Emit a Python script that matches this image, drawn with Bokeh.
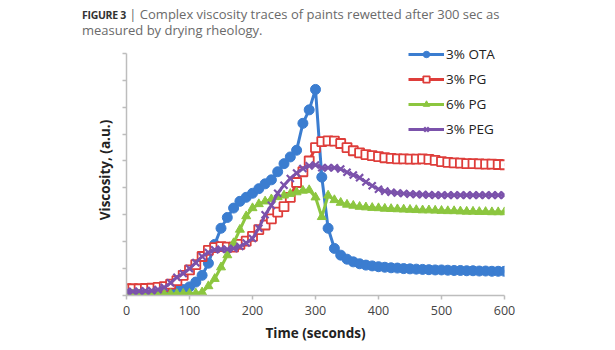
from bokeh.plotting import figure
from bokeh.models import Legend, LegendItem, FixedTicker, Range1d, Div
from bokeh.layouts import column
from bokeh.embed import file_html
from bokeh.resources import INLINE

# ---- data ----
time_s = [0, 10, 20, 30, 40, 50, 60, 70, 80, 90,
          100, 110, 120, 130, 140, 150, 160, 170, 180, 190,
          200, 210, 220, 230, 240, 250, 260, 270, 280, 290,
          300, 310, 320, 330, 340, 350, 360, 370, 380, 390,
          400, 410, 420, 430, 440, 450, 460, 470, 480, 490,
          500, 510, 520, 530, 540, 550, 560, 570, 580, 590, 600]

ota_3 = [0.12, 0.12, 0.12, 0.12, 0.12, 0.13, 0.14, 0.16, 0.18, 0.22,
         0.32, 0.5, 0.75, 1.2, 1.9, 2.5, 2.9, 3.25, 3.5, 3.65,
         3.8, 3.97, 4.15, 4.3, 4.6, 4.9, 5.15, 5.4, 6.4, 6.9,
         7.66, 4.4, 2.5, 1.75, 1.5, 1.35, 1.25, 1.18, 1.13, 1.1,
         1.07, 1.05, 1.03, 1.02, 1.0, 0.99, 0.98, 0.97, 0.96, 0.95,
         0.95, 0.94, 0.93, 0.93, 0.92, 0.92, 0.91, 0.91, 0.9, 0.9, 0.9]

pg_3 = [0.25, 0.25, 0.25, 0.26, 0.27, 0.3, 0.33, 0.42, 0.55, 0.75,
        0.95, 1.15, 1.45, 1.68, 1.78, 1.82, 1.8, 1.8, 1.9, 2.02,
        2.2, 2.45, 2.62, 2.85, 3.1, 3.3, 3.65, 4.2, 4.6, 5.0,
        5.5, 5.72, 5.75, 5.74, 5.65, 5.5, 5.38, 5.3, 5.24, 5.2,
        5.16, 5.12, 5.1, 5.08, 5.08, 5.07, 5.07, 5.08, 5.06, 5.02,
        4.98, 4.95, 4.93, 4.92, 4.9, 4.9, 4.89, 4.88, 4.88, 4.87, 4.86]

pg_6 = [0.05, 0.05, 0.05, 0.05, 0.05, 0.05, 0.05, 0.06, 0.06, 0.07,
        0.07, 0.08, 0.12, 0.35, 0.62, 1.05, 1.5, 1.95, 2.45, 2.95,
        3.25, 3.4, 3.5, 3.58, 3.66, 3.72, 3.78, 3.84, 3.9, 3.92,
        3.65, 2.92, 3.72, 3.55, 3.45, 3.38, 3.34, 3.3, 3.28, 3.26,
        3.25, 3.23, 3.22, 3.21, 3.2, 3.19, 3.18, 3.17, 3.17, 3.16,
        3.15, 3.14, 3.14, 3.13, 3.12, 3.12, 3.11, 3.11, 3.1, 3.1, 3.1]

peg_3 = [0.15, 0.15, 0.16, 0.17, 0.18, 0.22, 0.3, 0.47, 0.68, 0.82,
         1.0, 1.22, 1.45, 1.6, 1.7, 1.72, 1.72, 1.75, 1.82, 1.95,
         2.12, 2.5, 3.0, 3.35, 3.8, 4.1, 4.35, 4.55, 4.72, 4.82,
         4.85, 4.75, 4.75, 4.75, 4.7, 4.58, 4.48, 4.38, 4.22, 4.08,
         3.95, 3.88, 3.84, 3.81, 3.79, 3.77, 3.76, 3.75, 3.74, 3.73,
         3.73, 3.73, 3.73, 3.73, 3.73, 3.73, 3.73, 3.73, 3.73, 3.73, 3.73]

series_names = ["3% OTA", "3% PG", "6% PG", "3% PEG"]
x_ticks = [0, 100, 200, 300, 400, 500, 600]
y_ticks = [0, 1, 2, 3, 4, 5, 6, 7, 8, 9]

title_bold = "FIGURE 3"
title_line1 = "Complex viscosity traces of paints rewetted after 300 sec as"
title_line2 = "measured by drying rheology."

FONT = "Open Sans"

title_html = (
    '<div style="font-family:\'Open Sans\';font-size:13px;line-height:15px;'
    'color:#6a6a6a;padding:7px 0 0 82px;white-space:nowrap">'
    '<span style="font-weight:bold;color:#333333;font-size:10.5px;letter-spacing:-0.3px">'
    + title_bold + '</span>&nbsp;|&nbsp;' + title_line1 + '<br>'
    + title_line2 + '</div>'
)
header = Div(text=title_html, width=615, height=40, margin=0)

p = figure(width=615, height=310, output_backend="svg", toolbar_location=None,
           x_range=Range1d(0, 600), y_range=Range1d(0, 9.33),
           min_border_left=126, min_border_right=111,
           min_border_top=4, min_border_bottom=55, margin=0)
p.outline_line_color = None
p.grid.grid_line_color = None
p.background_fill_color = "white"
p.border_fill_color = "white"

# axes
for ax in (p.xaxis, p.yaxis):
    ax.axis_line_color = "#bdbdbd"
    ax.axis_line_width = 1.5
    ax.major_tick_line_color = "#bdbdbd"
    ax.major_tick_line_width = 1.5
    ax.minor_tick_line_color = None
    ax.major_tick_in = 0
    ax.major_tick_out = 4
    ax.major_label_text_font = FONT
    ax.major_label_text_font_size = "12.5px"
    ax.major_label_text_color = "#444444"
    ax.axis_label_text_font = FONT
    ax.axis_label_text_font_style = "bold"
    ax.axis_label_text_font_size = "13.5px"
    ax.axis_label_text_color = "#222222"

p.xaxis.ticker = FixedTicker(ticks=x_ticks)
p.xaxis.major_label_standoff = 6
p.xaxis.axis_label = "Time (seconds)"
p.xaxis.axis_label_standoff = 6

p.yaxis.ticker = FixedTicker(ticks=y_ticks)
p.yaxis.bounds = (0, 9)
p.yaxis.major_label_overrides = {t: "" for t in y_ticks}
p.yaxis.major_label_standoff = 0
p.yaxis.axis_label = "Viscosity, (a.u.)"
p.yaxis.axis_label_standoff = 9

colors = ["#3b7dd0", "#de3d3a", "#8cc63f", "#7b52ab"]
ys = [ota_3, pg_3, pg_6, peg_3]
items = []
for name, y, c in zip(series_names, ys, colors):
    ln = p.line(time_s, y, line_color=c, line_width=3)
    if name == "3% OTA":
        mk = p.scatter(time_s, y, marker="circle", size=10, fill_color=c, line_color=c)
    elif name == "3% PG":
        mk = p.scatter(time_s, y, marker="square", size=9, fill_color="white",
                       line_color=c, line_width=1.8)
    elif name == "6% PG":
        mk = p.scatter(time_s, y, marker="triangle", size=9, fill_color=c, line_color=c)
    else:
        mk = p.scatter(time_s, y, marker="x", size=10, line_color=c, line_width=2.2)
    items.append(LegendItem(label=name, renderers=[ln, mk]))

legend = Legend(items=items, location=(282, 157), orientation="vertical",
                glyph_width=36, glyph_height=16, spacing=7, padding=0, margin=0,
                label_standoff=2, border_line_color=None, background_fill_alpha=0,
                label_text_font=FONT, label_text_font_size="13.5px",
                label_text_color="#222222")
p.add_layout(legend, "center")

layout = column(header, p, spacing=0, margin=0)
open("out.html", "w").write(file_html(layout, INLINE))
